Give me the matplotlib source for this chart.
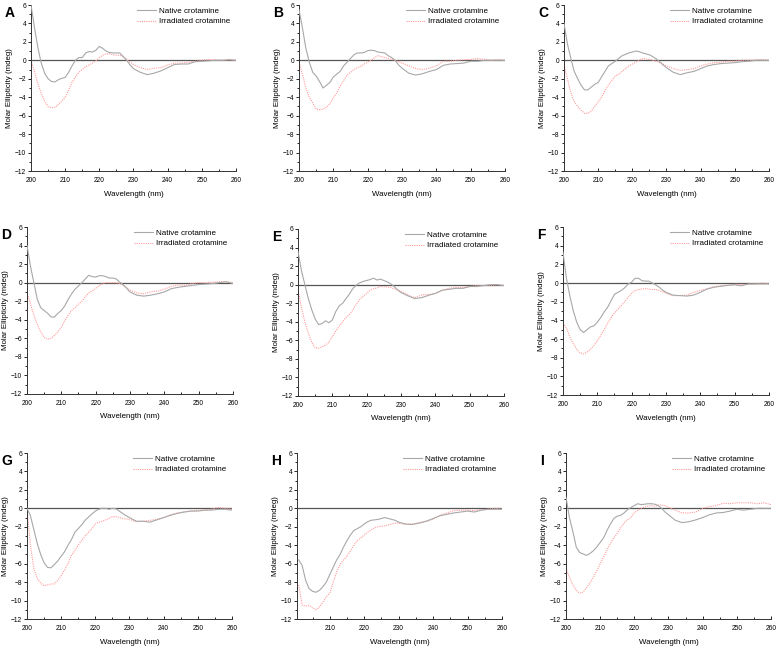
import matplotlib
matplotlib.use("Agg")
import matplotlib.pyplot as plt
import numpy as np
from matplotlib.ticker import MultipleLocator

plt.rcParams['font.family'] = ['Liberation Sans', 'DejaVu Sans']

# wavelength grid (nm): 1 nm steps to 230, then 2 nm steps
wl = [200, 201, 202, 203, 204, 205, 206, 207, 208, 209, 210, 211, 212, 213, 214, 215,
      216, 217, 218, 219, 220, 221, 222, 223, 224, 225, 226, 227, 228, 229, 230,
      232, 234, 236, 238, 240, 242, 244, 246, 248, 250, 252, 254, 256, 258, 260]

panels = ["A", "B", "C", "D", "E", "F", "G", "H", "I"]

native_A = [6.0, 3.6, 1.4, -0.3, -1.4, -2.0, -2.3, -2.35, -2.1, -1.95, -1.85, -1.3, -0.6, 0.0, 0.3, 0.3,
            0.8, 0.95, 0.9, 1.1, 1.5, 1.3, 1.0, 0.85, 0.8, 0.8, 0.8, 0.4, 0.0, -0.5, -0.9,
            -1.3, -1.55, -1.4, -1.15, -0.8, -0.45, -0.4, -0.4, -0.15, -0.1, -0.05, 0.0, 0.0, 0.05, 0.0]
irrad_A = [0.0, -1.2, -2.5, -3.6, -4.4, -5.0, -5.15, -5.1, -4.8, -4.4, -4.0, -3.2, -2.4, -1.8, -1.3, -1.0,
           -0.7, -0.5, -0.3, -0.05, 0.3, 0.55, 0.7, 0.7, 0.6, 0.55, 0.55, 0.4, 0.1, -0.2, -0.45,
           -0.8, -1.0, -0.85, -0.8, -0.5, -0.3, -0.3, -0.2, -0.1, 0.0, 0.1, 0.05, 0.0, 0.1, 0.0]

native_B = [5.5, 3.5, 1.3, -0.2, -1.3, -1.7, -2.3, -3.0, -2.7, -2.4, -1.8, -1.5, -1.2, -0.6, -0.2, 0.2,
            0.6, 0.8, 0.8, 0.85, 1.05, 1.1, 1.05, 0.9, 0.85, 0.8, 0.5, 0.3, 0.0, -0.5, -0.85,
            -1.4, -1.6, -1.45, -1.2, -1.0, -0.55, -0.4, -0.35, -0.3, -0.1, -0.1, 0.0, 0.0, 0.0, 0.0]
irrad_B = [-0.2, -1.5, -3.0, -4.0, -4.6, -5.3, -5.35, -5.3, -5.1, -4.7, -4.1, -3.5, -2.8, -2.2, -1.6, -1.3,
           -1.0, -0.8, -0.65, -0.4, -0.2, 0.0, 0.3, 0.5, 0.4, 0.3, 0.2, 0.1, 0.0, -0.15, -0.3,
           -0.6, -0.9, -1.0, -0.85, -0.6, -0.1, -0.1, 0.0, 0.05, 0.1, 0.2, 0.1, 0.0, 0.1, 0.0]

native_C = [4.0, 1.8, 0.2, -1.2, -2.0, -2.7, -3.2, -3.2, -2.9, -2.6, -2.4, -1.8, -1.2, -0.6, -0.35, -0.1,
            0.2, 0.5, 0.65, 0.8, 0.9, 1.0, 0.95, 0.8, 0.7, 0.6, 0.4, 0.15, -0.15, -0.5, -0.8,
            -1.3, -1.55, -1.35, -1.2, -0.9, -0.6, -0.45, -0.35, -0.3, -0.25, -0.15, -0.1, 0.0, 0.0, 0.0]
irrad_C = [-0.5, -2.0, -3.5, -4.5, -5.0, -5.4, -5.75, -5.75, -5.5, -5.0, -4.5, -4.0, -3.3, -2.7, -2.2, -1.7,
           -1.5, -1.2, -0.9, -0.6, -0.4, -0.2, 0.0, 0.2, 0.15, 0.1, 0.0, -0.1, -0.25, -0.4, -0.6,
           -0.9, -1.1, -1.0, -0.9, -0.6, -0.4, -0.25, -0.2, -0.1, -0.1, 0.0, 0.0, 0.05, 0.1, 0.0]

native_D = [4.0, 1.8, 0.0, -1.8, -2.7, -3.0, -3.3, -3.7, -3.7, -3.3, -3.0, -2.5, -1.8, -1.2, -0.7, -0.35,
            0.0, 0.4, 0.8, 0.65, 0.6, 0.75, 0.75, 0.65, 0.5, 0.5, 0.4, 0.05, -0.2, -0.6, -1.0,
            -1.35, -1.45, -1.35, -1.2, -1.0, -0.65, -0.5, -0.4, -0.3, -0.2, -0.15, -0.1, 0.0, 0.1, -0.1]
irrad_D = [-1.0, -2.3, -3.5, -4.5, -5.3, -5.9, -6.1, -6.0, -5.7, -5.3, -4.8, -4.1, -3.5, -3.0, -2.7, -2.3,
           -2.0, -1.5, -1.1, -0.9, -0.6, -0.35, -0.1, 0.0, 0.0, 0.0, 0.0, -0.1, -0.3, -0.55, -0.8,
           -1.1, -1.2, -1.0, -0.9, -0.7, -0.4, -0.25, -0.3, -0.1, 0.0, 0.0, 0.05, 0.1, 0.1, 0.0]

native_E = [3.6, 1.5, 0.0, -1.5, -2.7, -3.7, -4.3, -4.2, -3.9, -4.1, -3.8, -2.9, -2.3, -2.0, -1.5, -1.0,
            -0.4, -0.05, 0.2, 0.35, 0.45, 0.55, 0.7, 0.5, 0.6, 0.45, 0.3, 0.1, -0.2, -0.55, -0.85,
            -1.2, -1.5, -1.4, -1.15, -0.95, -0.6, -0.5, -0.4, -0.4, -0.2, -0.2, -0.1, 0.0, 0.0, -0.1]
irrad_E = [-0.5, -2.5, -4.0, -5.2, -6.2, -6.8, -6.85, -6.7, -6.5, -6.2, -5.6, -5.0, -4.5, -4.0, -3.5, -3.2,
           -2.7, -2.1, -1.6, -1.25, -0.95, -0.6, -0.45, -0.35, -0.2, -0.2, -0.25, -0.3, -0.45, -0.6, -0.7,
           -1.1, -1.4, -1.1, -1.05, -0.95, -0.6, -0.4, -0.3, -0.3, -0.2, -0.1, -0.1, -0.1, 0.0, -0.1]

native_F = [3.3, 0.5, -1.4, -3.0, -4.2, -5.0, -5.3, -5.0, -4.7, -4.6, -4.2, -3.7, -3.1, -2.6, -1.9, -1.2,
            -1.0, -0.8, -0.5, -0.1, 0.1, 0.5, 0.5, 0.25, 0.2, 0.2, 0.0, -0.2, -0.45, -0.75, -1.0,
            -1.3, -1.35, -1.4, -1.3, -1.0, -0.65, -0.45, -0.35, -0.25, -0.2, -0.3, -0.1, -0.1, -0.1, -0.1]
irrad_F = [-4.3, -4.8, -5.8, -6.5, -7.1, -7.5, -7.6, -7.4, -7.1, -6.7, -6.2, -5.6, -5.0, -4.3, -3.7, -3.2,
           -2.8, -2.4, -2.0, -1.5, -1.1, -0.8, -0.7, -0.65, -0.6, -0.65, -0.7, -0.7, -0.8, -0.95, -1.1,
           -1.35, -1.35, -1.3, -1.0, -0.8, -0.6, -0.4, -0.3, -0.25, -0.15, -0.15, -0.15, -0.1, 0.0, -0.1]

native_G = [0.0, -0.8, -2.3, -3.8, -5.0, -5.9, -6.4, -6.45, -6.1, -5.7, -5.2, -4.7, -4.0, -3.4, -2.6, -2.2,
            -1.8, -1.3, -0.95, -0.6, -0.3, -0.1, 0.0, 0.0, -0.1, 0.0, -0.05, -0.3, -0.55, -0.8, -1.0,
            -1.4, -1.4, -1.5, -1.25, -1.0, -0.75, -0.55, -0.4, -0.3, -0.3, -0.2, -0.2, -0.1, -0.1, -0.2]
irrad_G = [0.0, -4.0, -6.5, -7.6, -8.1, -8.4, -8.3, -8.2, -8.2, -7.8, -7.3, -6.7, -6.0, -5.1, -4.6, -4.0,
           -3.5, -3.0, -2.6, -2.2, -1.7, -1.5, -1.4, -1.25, -1.1, -0.9, -0.9, -1.0, -1.1, -1.15, -1.2,
           -1.45, -1.4, -1.3, -1.2, -1.0, -0.7, -0.5, -0.4, -0.3, -0.2, -0.2, -0.1, 0.1, 0.0, -0.1]

native_H = [np.nan, -5.6, -6.2, -7.8, -8.7, -9.0, -9.1, -8.9, -8.5, -8.0, -7.2, -6.4, -5.6, -5.0, -4.2, -3.5,
            -2.9, -2.4, -2.2, -2.0, -1.7, -1.45, -1.3, -1.25, -1.2, -1.1, -1.0, -1.1, -1.2, -1.3, -1.5,
            -1.7, -1.75, -1.6, -1.4, -1.1, -0.8, -0.65, -0.5, -0.4, -0.3, -0.4, -0.2, -0.1, -0.1, -0.1]
irrad_H = [np.nan, -8.3, -10.5, -10.6, -10.5, -10.8, -11.0, -10.7, -10.2, -9.6, -9.2, -8.0, -6.9, -6.1, -5.6, -5.2,
           -4.6, -4.0, -3.5, -3.2, -2.9, -2.6, -2.35, -2.1, -2.0, -1.95, -1.9, -1.8, -1.7, -1.6, -1.6,
           -1.75, -1.7, -1.55, -1.4, -1.2, -0.75, -0.5, -0.25, -0.2, -0.2, -0.25, -0.15, -0.1, 0.0, -0.1]

native_I = [1.2, -1.0, -2.5, -4.2, -4.8, -4.95, -5.1, -4.9, -4.6, -4.2, -3.7, -3.2, -2.4, -1.7, -1.1, -0.85,
            -0.75, -0.5, -0.15, 0.1, 0.3, 0.5, 0.4, 0.45, 0.5, 0.5, 0.45, 0.3, 0.0, -0.4, -0.7,
            -1.3, -1.55, -1.45, -1.25, -1.0, -0.7, -0.5, -0.45, -0.3, -0.1, -0.2, -0.1, 0.0, 0.0, 0.0]
irrad_I = [-6.5, -7.5, -8.3, -8.9, -9.2, -9.1, -8.6, -8.1, -7.5, -6.8, -6.0, -5.3, -4.5, -3.8, -3.2, -2.7,
           -2.1, -1.6, -1.25, -1.0, -0.5, -0.2, 0.0, 0.15, 0.25, 0.3, 0.2, 0.35, 0.35, 0.3, 0.1,
           -0.2, -0.5, -0.5, -0.4, 0.0, 0.2, 0.3, 0.55, 0.5, 0.6, 0.6, 0.6, 0.5, 0.6, 0.4]

native = [native_A, native_B, native_C, native_D, native_E, native_F, native_G, native_H, native_I]
irrad = [irrad_A, irrad_B, irrad_C, irrad_D, irrad_E, irrad_F, irrad_G, irrad_H, irrad_I]

W, H = 778, 647
# axes boxes in pixels: left, right, top, bottom
boxes = [(31, 236, 5, 171), (299, 505, 5, 171), (564, 769, 5, 171),
         (27, 233, 227, 394), (298, 504, 229, 396), (563, 769, 227, 395),
         (27, 232, 453, 619), (297, 502, 453, 619), (566, 771, 453, 619)]

fig = plt.figure(figsize=(W / 100, H / 100), dpi=100)

for i, name in enumerate(panels):
    l, r, t, b = boxes[i]
    ax = fig.add_axes([l / W, 1 - b / H, (r - l) / W, (b - t) / H])
    ax.axhline(0, color='#555555', lw=0.9, zorder=1)
    ax.plot(wl, native[i], color='#a8a8a8', lw=0.8, label='Native crotamine', zorder=3)
    ax.plot(wl, irrad[i], color='#ff9a9a', lw=0.8, ls=(0, (1, 1)), label='Irradiated crotamine', zorder=2)

    if name == "H":
        ax.set_xlim(200.5, 260)
        ax.set_xticks([210, 220, 230, 240, 250, 260])
    else:
        ax.set_xlim(200, 260)
        ax.set_xticks([200, 210, 220, 230, 240, 250, 260])
    ax.set_ylim(-12, 6)
    ax.yaxis.set_major_locator(MultipleLocator(2))
    ax.yaxis.set_minor_locator(MultipleLocator(1))
    ax.xaxis.set_minor_locator(MultipleLocator(5))
    ax.tick_params(axis='y', which='both', direction='out', labelsize=4.8, pad=1.0, width=0.6)
    ax.tick_params(axis='x', which='both', direction='in', labelsize=4.8, pad=4, width=0.6)
    ax.tick_params(which='major', length=2.5)
    ax.tick_params(which='minor', length=1.5)
    for s in ['top', 'right']:
        ax.spines[s].set_visible(False)
    for s in ['left', 'bottom']:
        ax.spines[s].set_linewidth(0.7)
        ax.spines[s].set_color('#333333')

    ax.set_xlabel('Wavelength (nm)', fontsize=5.7, labelpad=5)
    ax.set_ylabel('Molar Ellipticity (mdeg)', fontsize=5.7, labelpad=1.5)

    ax.legend(loc='upper right', bbox_to_anchor=(1.0, 1.02), frameon=False, fontsize=5.8,
              handlelength=2.4, handletextpad=0.4, labelspacing=0.35, borderpad=0.2)

    fig.text((l - 26) / W, 1 - (t + 1) / H, name, fontsize=10, fontweight='bold',
             ha='left', va='top')

fig.savefig('out.png', dpi=100)
